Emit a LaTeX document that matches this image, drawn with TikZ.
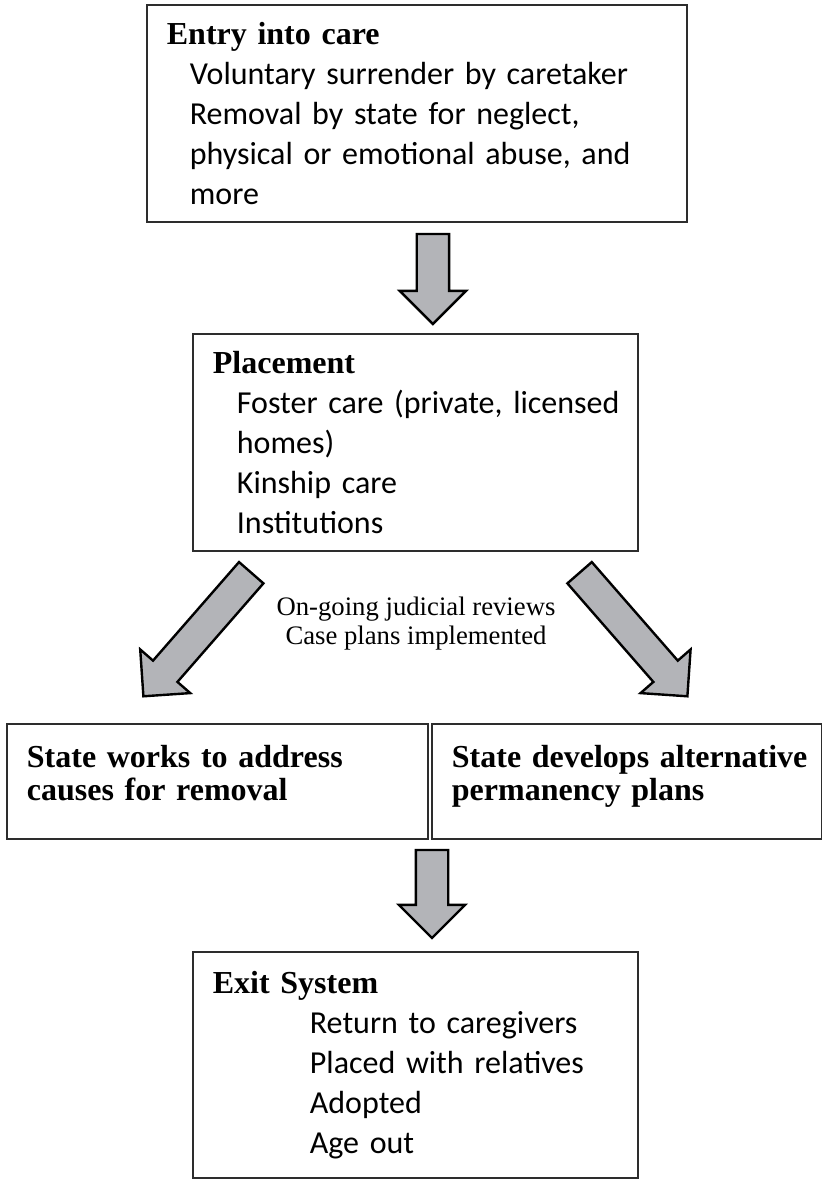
\documentclass[tikz,border=0pt]{standalone}
\usepackage{xcolor}
\usepackage{fontspec}
\setmainfont{Liberation Serif}
\newfontfamily\calibri{Carlito}
\usepackage{tikz}
\usetikzlibrary{shapes}
\usetikzlibrary{shapes.arrows}
\definecolor{arrowgray}{RGB}{179,180,184}
\definecolor{boxgray}{RGB}{45,45,45}
\newcommand{\stagetitle}[1]{{\rmfamily\bfseries #1}}
\newcommand{\indline}[2]{\hspace*{#1}\mbox{#2}}
\tikzset{
  stage/.style={rectangle,draw=boxgray,line width=1.8pt,anchor=north west,align=left,inner xsep=20pt,inner ysep=0pt,font=\calibri\fontsize{32}{40}\selectfont},
  outcome/.style={rectangle,draw=boxgray,line width=1.8pt,anchor=north west,align=left,inner xsep=20pt,inner ysep=0pt,minimum height=115pt,text depth=51pt,font=\bfseries\fontsize{32}{33}\selectfont},
  big arrow/.style={single arrow,draw=black,fill=arrowgray,line width=2.4pt,inner xsep=0pt,inner ysep=15pt,single arrow head extend=17pt,anchor=tail}
}

\begin{document}
\begin{tikzpicture}[x=1pt,y=-1pt]
  \useasboundingbox (0,0) rectangle (822,1179);

  \node[stage,text width=500pt,minimum height=217pt] (entry) at (146,4)
    {\stagetitle{Entry into care}\\
     \indline{23pt}{Voluntary surrender by caretaker}\\
     \indline{23pt}{Removal by state for neglect,}\\
     \indline{23pt}{physical or emotional abuse, and}\\
     \indline{23pt}{more}};

  \node[stage,text width=405pt,minimum height=217pt] (place) at (192,333)
    {\stagetitle{Placement}\\
     \indline{24pt}{Foster care (private, licensed}\\
     \indline{24pt}{homes)}\\
     \indline{24pt}{Kinship care}\\
     \indline{24pt}{Institutions}};

  \node[font=\fontsize{26.7}{29}\selectfont,align=center,inner sep=0pt] (review) at (416,623.5)
    {On-going judicial reviews\\Case plans implemented};

  \node[outcome,text width=381pt] (reunify) at (6,723)
    {State works to address\\causes for removal};
  \node[outcome,text width=350pt] (permanency) at (431,723)
    {\mbox{State develops alternative}\\permanency plans};

  \node[stage,text width=405pt,minimum height=226pt] (exitsys) at (192,951)
    {\stagetitle{Exit System}\\
     \indline{97pt}{Return to caregivers}\\
     \indline{97pt}{Placed with relatives}\\
     \indline{97pt}{Adopted}\\
     \indline{97pt}{Age out}};

  \node[big arrow,rotate=-90,minimum height=90pt] (a1) at ([xshift=16pt,yshift=-10pt]entry.south) {};
  \node[big arrow,rotate=228.9,minimum height=164pt] (a2) at ([xshift=60pt,yshift=-20pt]place.south west) {};
  \node[big arrow,rotate=-48.9,minimum height=164pt] (a3) at ([xshift=-60pt,yshift=-20pt]place.south east) {};
  \node[big arrow,rotate=-90,minimum height=88pt] (a4) at ([xshift=1pt,yshift=-9pt]permanency.south west) {};
\end{tikzpicture}
\end{document}
